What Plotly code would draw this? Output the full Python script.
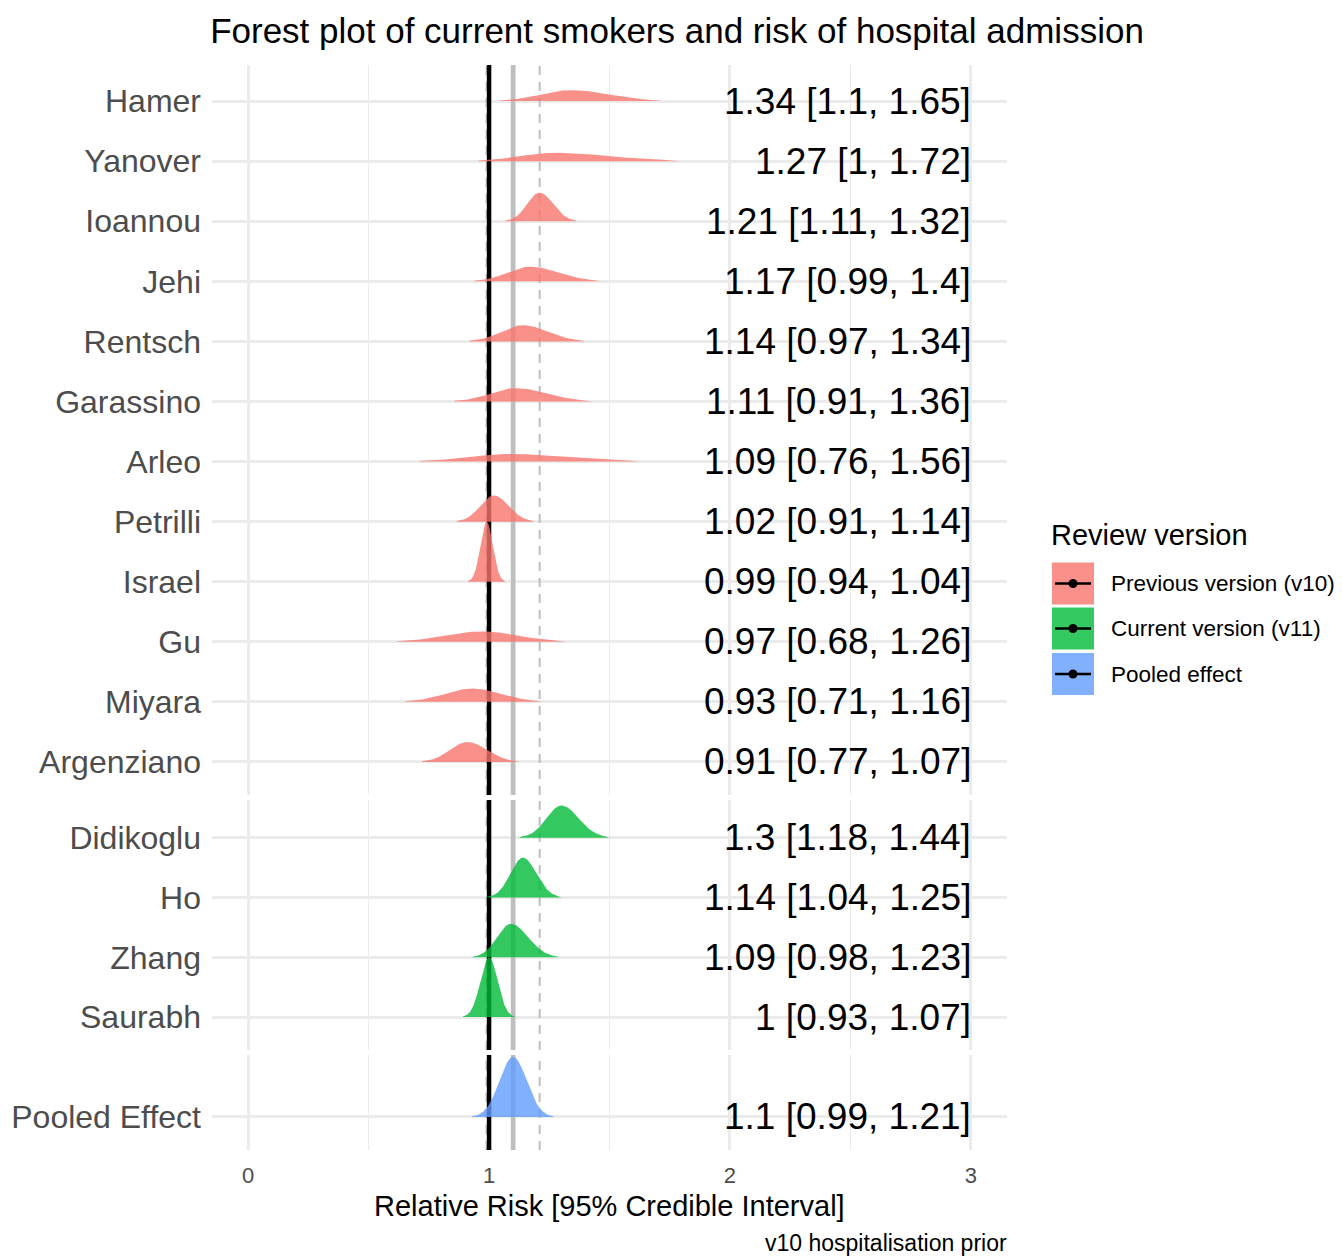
import numpy as np
import plotly.graph_objects as go
from plotly.subplots import make_subplots

# ---------------- data ----------------
prev_names = ["Hamer", "Yanover", "Ioannou", "Jehi", "Rentsch", "Garassino", "Arleo",
              "Petrilli", "Israel", "Gu", "Miyara", "Argenziano"]
prev_est = [1.34, 1.27, 1.21, 1.17, 1.14, 1.11, 1.09, 1.02, 0.99, 0.97, 0.93, 0.91]
prev_lo = [1.10, 1.00, 1.11, 0.99, 0.97, 0.91, 0.76, 0.91, 0.94, 0.68, 0.71, 0.77]
prev_hi = [1.65, 1.72, 1.32, 1.40, 1.34, 1.36, 1.56, 1.14, 1.04, 1.26, 1.16, 1.07]

curr_names = ["Didikoglu", "Ho", "Zhang", "Saurabh"]
curr_est = [1.30, 1.14, 1.09, 1.00]
curr_lo = [1.18, 1.04, 0.98, 0.93]
curr_hi = [1.44, 1.25, 1.23, 1.07]

pool_names = ["Pooled Effect"]
pool_est = [1.10]
pool_lo = [0.99]
pool_hi = [1.21]

legend_labels = ["Previous version (v10)", "Current version (v11)", "Pooled effect"]
fill_colors = ["rgba(248,118,109,0.8)", "rgba(0,186,56,0.8)", "rgba(97,156,255,0.8)"]
null_value = 1.0
x_ticks = [0, 1, 2, 3]
x_minor = [0.5, 1.5, 2.5]

panels = [
    (prev_names, prev_est, prev_lo, prev_hi),
    (curr_names, curr_est, curr_lo, curr_hi),
    (pool_names, pool_est, pool_lo, pool_hi),
]

# ---------------- layout constants ----------------
OFF = 8  # page body margin of the browser
W, H = 1342 - OFF, 1256 - OFF
ML, MT = 212 - OFF, 65 - OFF
MR, MB = 335, 106
PW = W - ML - MR
PH = H - MT - MB
row_px = [730, 250, 95]
y_ranges = [[0.45, 12.6], [0.45, 4.63], [0.45, 2.03]]
FONT = "Liberation Sans, Arial, sans-serif"
GRID = "#EBEBEB"
TXT_GREY = "#4D4D4D"


def px_x(px):
    return (px - OFF - ML) / PW


def px_y(py):
    return (MT + PH - (py - OFF)) / PH


def ridge(e, l, h):
    sl = (e - l) / 1.96
    su = (h - e) / 1.96
    x = np.linspace(l - 4 * sl, h + 4 * su, 600)
    s = np.where(x < e, sl, su)
    d = np.exp(-0.5 * ((x - e) / s) ** 2) * 2 / (np.sqrt(2 * np.pi) * (sl + su))
    return x, d


fig = make_subplots(rows=3, cols=1, shared_xaxes=True, row_heights=row_px,
                    vertical_spacing=5 / PH)

for p, (names, est, lo, hi) in enumerate(panels):
    row = p + 1
    n = len(names)
    positions = list(range(n, 0, -1))
    yr = y_ranges[p]

    # reference lines (drawn first so the ridges sit on top)
    for v in (pool_lo[0], pool_hi[0]):
        fig.add_trace(go.Scatter(x=[v, v], y=yr, mode="lines",
                                 line=dict(color="#BEBEBE", width=2, dash="9px,7px"),
                                 hoverinfo="skip", showlegend=False), row=row, col=1)
    fig.add_trace(go.Scatter(x=[pool_est[0]] * 2, y=yr, mode="lines",
                             line=dict(color="#BEBEBE", width=4.7),
                             hoverinfo="skip", showlegend=False), row=row, col=1)
    fig.add_trace(go.Scatter(x=[null_value] * 2, y=yr, mode="lines",
                             line=dict(color="black", width=4.5),
                             hoverinfo="skip", showlegend=False), row=row, col=1)

    curves = [ridge(e, l, h) for e, l, h in zip(est, lo, hi)]
    dmax = max(c[1].max() for c in curves)
    for (x, d), pos in zip(curves, positions):
        ds = d / dmax
        keep = ds >= 0.01
        xs = x[keep]
        ys = pos + ds[keep]
        px_ = np.concatenate([xs, xs[::-1]])
        py_ = np.concatenate([ys, np.full(len(xs), pos)])
        fig.add_trace(go.Scatter(x=px_, y=py_, mode="lines", fill="toself",
                                 fillcolor=fill_colors[p],
                                 line=dict(width=0, color=fill_colors[p]),
                                 hoverinfo="skip", showlegend=False),
                      row=row, col=1)
    # estimate labels
    yref = "y" if row == 1 else f"y{row}"
    xref = "x" if row == 1 else f"x{row}"
    for e, l, h, pos in zip(est, lo, hi, positions):
        fig.add_annotation(x=x_ticks[-1], y=pos, xref=xref, yref=yref,
                           text=f"{e:g} [{l:g}, {h:g}]", showarrow=False,
                           xanchor="right", yanchor="middle", xshift=2,
                           font=dict(size=37, color="black", family=FONT))

    fig.update_yaxes(row=row, col=1, tickvals=positions, ticktext=names, range=yr,
                     showgrid=True, gridcolor=GRID, gridwidth=2.5, zeroline=False,
                     ticks="", showline=False, ticklabelstandoff=10, automargin=False,
                     tickfont=dict(size=32, color=TXT_GREY, family=FONT))
    fig.update_xaxes(row=row, col=1, range=[-0.15, 3.15], tickvals=x_ticks,
                     showgrid=True, gridcolor=GRID, gridwidth=2.5, zeroline=False,
                     showline=False, ticks="", automargin=False,
                     minor=dict(tickvals=x_minor, showgrid=True, gridcolor=GRID, gridwidth=1.3),
                     tickfont=dict(size=22, color=TXT_GREY, family=FONT),
                     ticklabelstandoff=10)

# axis title & caption
fig.add_annotation(x=0.5, y=px_y(1206), xref="paper", yref="paper",
                   text="Relative Risk [95% Credible Interval]", showarrow=False,
                   xanchor="center", yanchor="middle",
                   font=dict(size=29, color="black", family=FONT))
fig.add_annotation(x=1, y=px_y(1243), xref="paper", yref="paper",
                   text="v10 hospitalisation prior", showarrow=False,
                   xanchor="right", yanchor="middle", xshift=2,
                   font=dict(size=23, color="black", family=FONT))

# custom legend
fig.add_annotation(x=px_x(1049), y=px_y(535), xref="paper", yref="paper",
                   text="Review version", showarrow=False, xanchor="left", yanchor="middle",
                   font=dict(size=29, color="black", family=FONT))
key_centers = [583.5, 628.5, 674]
rx, ry = 4.5 / PW, 4.5 / PH
for lab, col, cy in zip(legend_labels, fill_colors, key_centers):
    fig.add_shape(type="rect", xref="paper", yref="paper",
                  x0=px_x(1052), x1=px_x(1094), y0=px_y(cy + 21), y1=px_y(cy - 21),
                  fillcolor=col, line=dict(width=0))
    fig.add_shape(type="line", xref="paper", yref="paper",
                  x0=px_x(1055), x1=px_x(1091), y0=px_y(cy), y1=px_y(cy),
                  line=dict(color="black", width=2.5))
    fig.add_shape(type="circle", xref="paper", yref="paper",
                  x0=px_x(1073) - rx, x1=px_x(1073) + rx,
                  y0=px_y(cy) - ry, y1=px_y(cy) + ry,
                  fillcolor="black", line=dict(width=0))
    fig.add_annotation(x=px_x(1109), y=px_y(cy), xref="paper", yref="paper",
                       text=lab, showarrow=False, xanchor="left", yanchor="middle",
                       font=dict(size=22.5, color="black", family=FONT))

fig.update_layout(
    width=W, height=H,
    margin=dict(l=ML, r=MR, t=MT, b=MB, autoexpand=False),
    plot_bgcolor="white", paper_bgcolor="white",
    font=dict(family=FONT),
    showlegend=False,
    title=dict(text="Forest plot of current smokers and risk of hospital admission",
               x=(677 - OFF) / W, xref="container", xanchor="center",
               y=1 - (31 - OFF) / H, yref="container", yanchor="middle",
               font=dict(size=35, color="black", family=FONT)),
)

fig.write_html("out.html")
